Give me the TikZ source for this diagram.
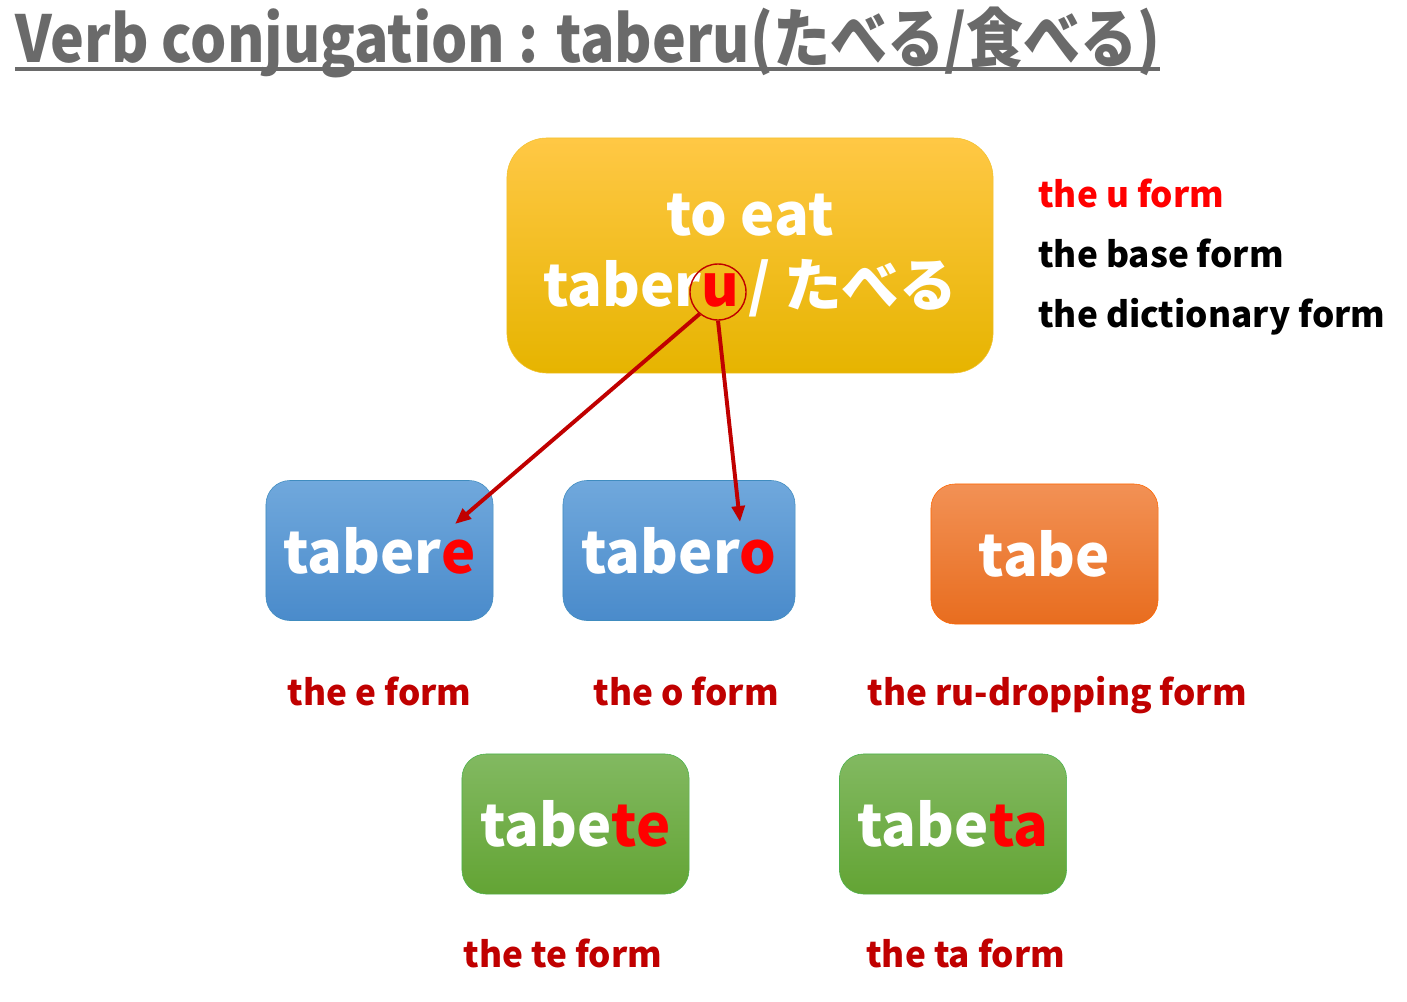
\documentclass[tikz,border=0pt]{standalone}
\usepackage{fontspec}
\setmainfont{Noto Sans CJK JP}
\usetikzlibrary{calc,positioning,arrows.meta}

\definecolor{darkred}{HTML}{C00000}
\definecolor{titlegray}{HTML}{6A6A6A}

\tikzset{
    box/.style={rounded corners=0.6cm, text=white, font=\fontsize{41}{41}\selectfont\bfseries,
        minimum width=5.675cm, minimum height=3.5cm},
    bluebox/.style={box, draw=blue!40!cyan!50!gray, top color={rgb,255:red,112;green,168;blue,220}, bottom color={rgb,255:red,74;green,139;blue,203}},
    orangebox/.style={box, draw=orange!80!red, top color={rgb,255:red,242;green,145;blue,85}, bottom color={rgb,255:red,232;green,109;blue,31}},
    greenbox/.style={box, draw=green!40!gray, top color={rgb,255:red,130;green,185;blue,97}, bottom color={rgb,255:red,99;green,164;blue,52}},
    formlabel/.style={text=darkred, font=\fontsize{25}{25}\selectfont\bfseries},
    sidelabel/.style={font=\fontsize{25}{25}\selectfont\bfseries, anchor=base west},
    arrow/.style={draw=darkred, line width=2.8pt, -{Triangle[length=0.4cm, width=0.32cm]}},
}

\begin{document}
\begin{tikzpicture}[x=0.025cm, y=-0.025cm, every node/.style={inner sep=0pt}]
    \useasboundingbox (0,0) rectangle (1407,1001);

    % title
    \node[anchor=base west, text=titlegray] (title) at (15,62)
        {\resizebox{28.625cm}{\totalheight}{\fontsize{36}{36}\selectfont\bfseries Verb conjugation : taberu(たべる/食べる)}};
    \draw[titlegray, line width=3pt] (15,69) -- (1160,69);

    % the base word
    \node[box, rounded corners=1cm, minimum width=12.15cm, minimum height=5.875cm,
          draw={rgb,255:red,242;green,194;blue,48},
          top color={rgb,255:red,255;green,200;blue,69}, bottom color={rgb,255:red,230;green,180;blue,0},
          font=\fontsize{41}{50}\selectfont\bfseries, align=center] (toeat) at (750,255.5)
        {to eat\\ taber{\color{red}u}\,/ たべる};
    \node[circle, draw=darkred, line width=1pt, minimum size=1.4cm] (ucirc) at (718,292) {};

    % side labels
    \node[sidelabel, text=red] (uform) at (1038,207) {the u form};
    \node[sidelabel] (baseform) at (1038,267) {the base form};
    \node[sidelabel] (dictform) at (1038,327) {the dictionary form};

    % conjugated forms
    \node[bluebox] (tabere) at (379.5,550.5) {taber{\color{red}e}};
    \node[bluebox, minimum width=5.8cm] (tabero) at (679,550.5) {taber{\color{red}o}};
    \node[orangebox] (tabe) at (1044.5,554) {tabe};
    \node[greenbox] (tabete) at (575.5,824) {tabe{\color{red}te}};
    \node[greenbox] (tabeta) at (953,824) {tabe{\color{red}ta}};

    \node[formlabel, below=1.4cm of tabere] (eform) {the e form};
    \node[formlabel, below=1.4cm of tabero, xshift=5] (oform) {the o form};
    \node[formlabel, below=1.3cm of tabe, xshift=9] (ruform) {the ru-dropping form};
    \node[formlabel, below=1.1cm of tabete, xshift=-9] (teform) {the te form};
    \node[formlabel, below=1.1cm of tabeta, xshift=9] (taform) {the ta form};

    % arrows from u
    \coordinate (eend) at (455,524);
    \coordinate (oend) at (740,522);
    \draw[arrow] (ucirc.-130) -- (eend);
    \draw[arrow] (ucirc.-90) -- (oend);
\end{tikzpicture}
\end{document}
